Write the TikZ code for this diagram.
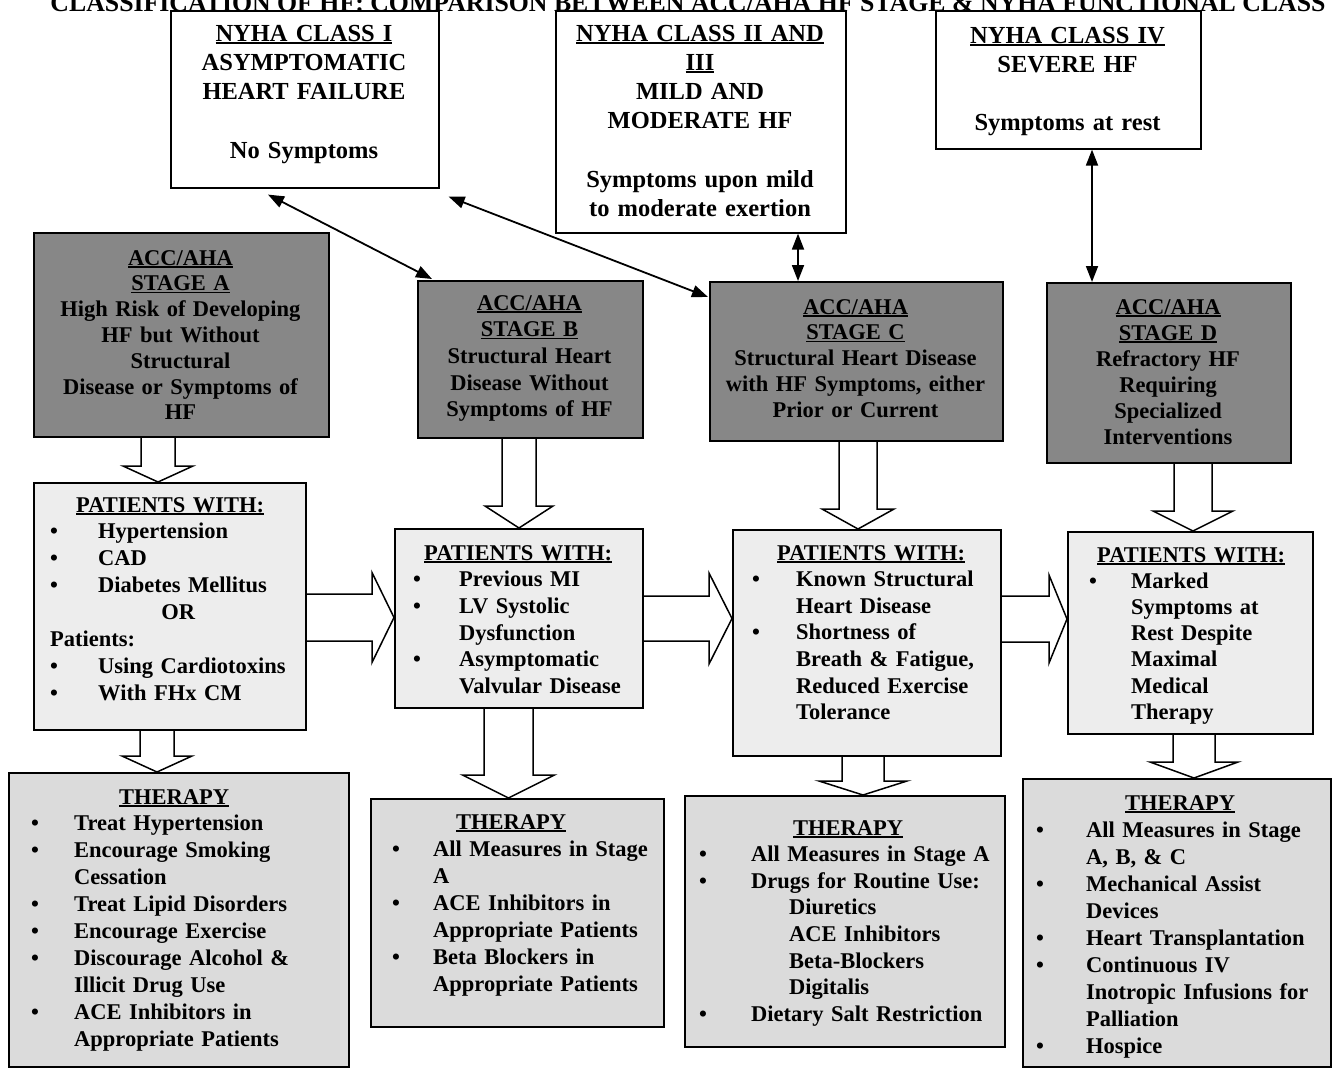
\documentclass[tikz,border=0pt]{standalone}
\usepackage{fontspec}
\setmainfont{Liberation Serif}
\usetikzlibrary{arrows.meta,calc}
\pgfdeclarelayer{back}
\pgfdeclarelayer{arr}
\pgfsetlayers{back,arr,main}
\newlength\bulw
\newcommand\hdl[1]{\leavevmode\setbox0\hbox{#1}\rlap{\rule[-2.6bp]{\wd0}{1.6bp}}\box0}
\newcommand\hd[2]{\leavevmode\makebox[#1]{\hdl{#2}}}
\newcommand\bu{\leavevmode\makebox[\bulw][l]{\textbullet}}
\newcommand\ind{\leavevmode\hspace*{\bulw}}
% vertical block arrow: x, from anchor, to anchor, stem half, head half, head length
\newcommand\blkdown[6]{%
  \coordinate (bx) at (#1,0);
  \draw[blk] ($(bx |- #2)+(-#4,0)$) -- ($(bx |- #3)+(-#4,-#6)$) -- ($(bx |- #3)+(-#5,-#6)$) -- (bx |- #3) -- ($(bx |- #3)+(#5,-#6)$) -- ($(bx |- #3)+(#4,-#6)$) -- ($(bx |- #2)+(#4,0)$);
}
% horizontal block arrow: y, from anchor, to anchor, stem half, head half, head length
\newcommand\blkright[6]{%
  \coordinate (by) at (0,#1);
  \draw[blk] ($(by -| #2)+(0,-#4)$) -- ($(by -| #3)+(-#6,-#4)$) -- ($(by -| #3)+(-#6,-#5)$) -- (by -| #3) -- ($(by -| #3)+(-#6,#5)$) -- ($(by -| #3)+(-#6,#4)$) -- ($(by -| #2)+(0,#4)$);
}
\begin{document}
\begin{tikzpicture}[x=1bp,y=-1bp,
  boxbase/.style={draw, line width=1.6bp, inner sep=0pt, anchor=north west},
  nyha/.style={boxbase, fill=white},
  stagebox/.style={boxbase, fill=black!47},
  patbox/.style={boxbase, fill=black!7},
  therbox/.style={boxbase, fill=black!14},
  nytxt/.style={align=center, inner sep=0pt, anchor=base, font=\bfseries\fontsize{24.5bp}{29.3bp}\selectfont},
  ctxt/.style={align=center, inner sep=0pt, anchor=base, font=\bfseries\fontsize{22.5bp}{#1}\selectfont},
  ltxt/.style={align=left, inner sep=0pt, anchor=base west, text width=300bp, font=\bfseries\fontsize{22.5bp}{#1}\selectfont},
  blk/.style={draw, line width=1.5bp, fill=white, line join=miter},
  dbl/.style={line width=1.8bp, {Triangle[length=16bp,width=12bp]}-{Triangle[length=16bp,width=12bp]}}
]
\begin{pgfonlayer}{back}
\fill[white] (0,0) rectangle (1333,1067);
\end{pgfonlayer}
\useasboundingbox (0,0) rectangle (1333,1067);

% title (top cut off as in the reference)
\node[inner sep=0pt, anchor=base, font=\bfseries\fontsize{25.8bp}{30bp}\selectfont] (title) at (688,11)
  {CLASSIFICATION OF HF: COMPARISON BETWEEN ACC/AHA HF STAGE \& NYHA FUNCTIONAL CLASS};

% NYHA boxes
\node[nyha, minimum width=268bp, minimum height=177bp] (n1) at (170,10) {};
\node[nyha, minimum width=290bp, minimum height=222bp] (n2) at (555,10) {};
\node[nyha, minimum width=265bp, minimum height=138bp] (n4) at (935,10) {};

% stage boxes
\node[stagebox, minimum width=295bp, minimum height=204bp] (sA) at (33,232) {};
\node[stagebox, minimum width=225bp, minimum height=157bp] (sB) at (417,280) {};
\node[stagebox, minimum width=293bp, minimum height=159bp] (sC) at (709,281) {};
\node[stagebox, minimum width=244bp, minimum height=180bp] (sD) at (1046,282) {};

% patients boxes
\node[patbox, minimum width=272bp, minimum height=247bp] (pA) at (33,482) {};
\node[patbox, minimum width=248bp, minimum height=179bp] (pB) at (394,528) {};
\node[patbox, minimum width=268bp, minimum height=226bp] (pC) at (732,529) {};
\node[patbox, minimum width=245bp, minimum height=202bp] (pD) at (1067,531) {};

% therapy boxes
\node[therbox, minimum width=340bp, minimum height=294bp] (tA) at (8,772) {};
\node[therbox, minimum width=293bp, minimum height=228bp] (tB) at (370,798) {};
\node[therbox, minimum width=320bp, minimum height=251bp] (tC) at (684,795) {};
\node[therbox, minimum width=308bp, minimum height=288bp] (tD) at (1022,778) {};

% block arrows
\begin{pgfonlayer}{arr}
\blkdown{158}{sA.south}{pA.north}{17}{35}{16}
\blkdown{157}{pA.south}{tA.north}{17}{35}{16}
\blkdown{519}{sB.south}{pB.north}{17}{34}{22}
\blkdown{508.5}{pB.south}{tB.north}{24.5}{46}{23}
\blkdown{858}{sC.south}{pC.north}{19}{36}{20}
\blkdown{863}{pC.south}{tC.north}{21}{44}{14}
\blkdown{1193}{sD.south}{pD.north}{19}{40}{20}
\blkdown{1194}{pD.south}{tD.north}{21}{44}{16}
\blkright{617.5}{pA.east}{pB.west}{23.5}{45}{22}
\blkright{618.5}{pB.east}{pC.west}{22.5}{45.5}{23}
\blkright{619}{pC.east}{pD.west}{23}{44}{18}
\end{pgfonlayer}

% double-headed connectors
\draw[dbl] ($(n1.south west)+(98,6)$) -- ($(sB.north west)+(15,-1)$);
\draw[dbl] ($(n1.south east)+(9,8)$) -- ($(sC.north west)+(-1,16)$);
\draw[dbl] ($(n2.south west)+(243,0)$) -- ($(sC.north west)+(89,0)$);
\draw[dbl] ($(n4.south west)+(157,0)$) -- ($(sD.north west)+(46,0)$);

% NYHA texts
\node[nytxt, text width=262bp] (n1t) at (304,41)
  {\hdl{NYHA CLASS I}\\ASYMPTOMATIC\\HEART FAILURE\\[29.3bp]No Symptoms};
\node[nytxt, text width=286bp] (n2t) at (700,41)
  {\hdl{NYHA CLASS II AND}\\\hdl{III}\\MILD AND\\MODERATE HF\\[29.3bp]Symptoms upon mild\\to moderate exertion};
\node[nytxt, text width=260bp] (n4t) at (1067.5,43)
  {\hdl{NYHA CLASS IV}\\SEVERE HF\\[29.3bp]Symptoms at rest};

% stage texts
\node[ctxt=25.8bp, text width=290bp] (sAt) at (180.5,265)
  {\hdl{ACC/AHA}\\\hdl{STAGE A}\\High Risk of Developing\\HF but Without\\Structural\\Disease or Symptoms of\\HF};
\node[ctxt=26.7bp, text width=220bp] (sBt) at (529.5,310)
  {\hdl{ACC/AHA}\\\hdl{STAGE B}\\Structural Heart\\Disease Without\\Symptoms of HF};
\node[ctxt=25.8bp, text width=290bp] (sCt) at (855.5,314)
  {\hdl{ACC/AHA}\\\hdl{STAGE C}\\Structural Heart Disease\\with HF Symptoms, either\\Prior or Current};
\node[ctxt=26bp, text width=240bp] (sDt) at (1168,314)
  {\hdl{ACC/AHA}\\\hdl{STAGE D}\\Refractory HF\\Requiring\\Specialized\\Interventions};

% patients texts
\node[ltxt=26.9bp] (pAt) at (50,512)
  {\setlength\bulw{48bp}\hd{240bp}{PATIENTS WITH:}\\
   \bu Hypertension\\\bu CAD\\\bu Diabetes Mellitus\\
   \makebox[240bp]{\hspace{16bp}OR}\\Patients:\\
   \bu Using Cardiotoxins\\\bu With FHx CM};
\node[ltxt=26.7bp] (pBt) at (413,560)
  {\setlength\bulw{46bp}\hd{210bp}{PATIENTS WITH:}\\
   \bu Previous MI\\\bu LV Systolic\\\ind Dysfunction\\
   \bu Asymptomatic\\\ind Valvular Disease};
\node[ltxt=26.6bp] (pCt) at (752,560)
  {\setlength\bulw{44bp}\hd{238bp}{PATIENTS WITH:}\\
   \bu Known Structural\\\ind Heart Disease\\\bu Shortness of\\
   \ind Breath \& Fatigue,\\\ind Reduced Exercise\\\ind Tolerance};
\node[ltxt=26.2bp] (pDt) at (1089,562)
  {\setlength\bulw{42bp}\hd{204bp}{PATIENTS WITH:}\\
   \bu Marked\\\ind Symptoms at\\\ind Rest Despite\\\ind Maximal\\
   \ind Medical\\\ind Therapy};

% therapy texts
\node[ltxt=26.9bp] (tAt) at (31,804)
  {\setlength\bulw{43bp}\hd{286bp}{THERAPY}\\
   \bu Treat Hypertension\\\bu Encourage Smoking\\\ind Cessation\\
   \bu Treat Lipid Disorders\\\bu Encourage Exercise\\
   \bu Discourage Alcohol \&\\\ind Illicit Drug Use\\
   \bu ACE Inhibitors in\\\ind Appropriate Patients};
\node[ltxt=27bp] (tBt) at (392,829)
  {\setlength\bulw{41bp}\hd{238bp}{THERAPY}\\
   \bu All Measures in Stage\\\ind A\\\bu ACE Inhibitors in\\
   \ind Appropriate Patients\\\bu Beta Blockers in\\\ind Appropriate Patients};
\node[ltxt=26.6bp] (tCt) at (699,835)
  {\setlength\bulw{52bp}\hd{298bp}{THERAPY}\\
   \bu All Measures in Stage A\\\bu Drugs for Routine Use:\\
   \hspace*{90bp}Diuretics\\\hspace*{90bp}ACE Inhibitors\\
   \hspace*{90bp}Beta-Blockers\\\hspace*{90bp}Digitalis\\
   \bu Dietary Salt Restriction};
\node[ltxt=27bp] (tDt) at (1036,810)
  {\setlength\bulw{50bp}\hd{288bp}{THERAPY}\\
   \bu All Measures in Stage\\\ind A, B, \& C\\\bu Mechanical Assist\\
   \ind Devices\\\bu Heart Transplantation\\\bu Continuous IV\\
   \ind Inotropic Infusions for\\\ind Palliation\\\bu Hospice};
\end{tikzpicture}
\end{document}
